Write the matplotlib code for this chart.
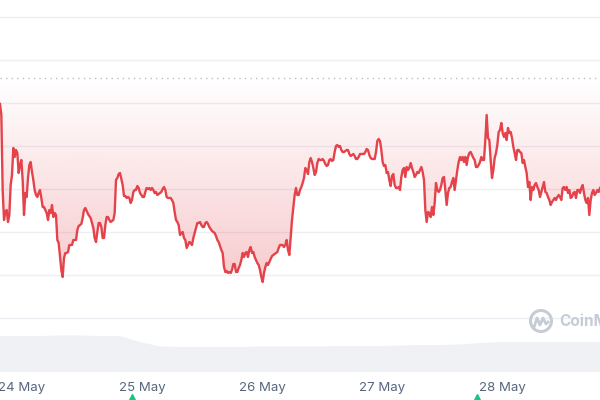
import numpy as np
import pandas as pd
import matplotlib
matplotlib.use("Agg")
import matplotlib.pyplot as plt
import matplotlib.dates as mdates
from matplotlib.colors import LinearSegmentedColormap
from matplotlib.patches import Circle
from matplotlib.transforms import blended_transform_factory

plt.rcParams['font.family'] = ['Inter', 'DejaVu Sans']

# price samples every 16 minutes (arbitrary units, no axis labels on the chart)
price_part1 = [296, 285, 210, 180, 188, 190, 178, 185, 215, 225, 252, 243, 250, 247, 227,
               235, 240, 220, 185, 207, 203, 222, 235, 238, 228, 220, 210, 205, 203, 207,
               210, 202, 193, 193, 190, 187, 180, 190, 187, 195, 183, 187, 185, 160, 157,
               143, 130, 123, 142, 147, 147, 148, 155, 155, 155, 160, 160, 160, 170, 174,
               175, 176, 182, 190, 192, 189, 186, 184, 182, 177, 172, 162, 158, 168, 177]
price_part2 = [177, 173, 162, 162, 175, 183, 183, 180, 178, 179, 180, 187, 220, 222, 226,
               227, 221, 215, 204, 204, 202, 203, 202, 197, 200, 208, 210, 210, 214, 212,
               207, 205, 203, 203, 208, 212, 211, 212, 210, 212, 210, 207, 208, 205, 206,
               207, 208, 211, 213, 210, 203, 202, 202, 202, 200, 197, 188, 180, 178, 175,
               165, 167, 168, 162, 160, 152, 155, 158, 157, 155, 162, 167, 172, 177, 177]
price_part3 = [178, 175, 173, 173, 177, 178, 176, 173, 171, 169, 168, 167, 164, 160, 158,
               154, 150, 147, 133, 128, 129, 127, 128, 127, 130, 136, 136, 128, 128, 132,
               135, 140, 147, 143, 147, 148, 143, 150, 153, 147, 148, 143, 140, 137, 135,
               130, 123, 118, 127, 133, 137, 135, 138, 141, 144, 145, 146, 147, 148, 152,
               155, 155, 155, 153, 155, 160, 150, 145, 162, 180, 192, 205, 212, 205, 205]
price_part4 = [210, 213, 217, 222, 232, 230, 226, 238, 242, 238, 232, 225, 228, 237, 241,
               240, 240, 241, 239, 236, 234, 235, 240, 241, 239, 240, 248, 254, 255, 253,
               254, 250, 248, 248, 249, 250, 250, 246, 244, 245, 246, 244, 241, 241, 243,
               246, 246, 246, 246, 248, 251, 250, 245, 242, 241, 241, 241, 248, 259, 261,
               259, 250, 238, 234, 235, 227, 228, 220, 214, 224, 226, 215, 212, 212, 213]
price_part5 = [210, 223, 230, 232, 223, 233, 230, 232, 237, 232, 228, 223, 225, 228, 227,
               230, 233, 228, 220, 190, 178, 188, 187, 183, 193, 185, 197, 217, 210, 208,
               210, 215, 222, 223, 210, 195, 207, 212, 213, 218, 222, 210, 220, 230, 238,
               243, 240, 243, 238, 243, 235, 243, 247, 248, 245, 242, 240, 233, 233, 235,
               238, 243, 240, 240, 260, 285, 262, 260, 240, 222, 230, 242, 247, 255, 268]
price_part6 = [270, 277, 267, 263, 267, 260, 272, 267, 268, 262, 253, 247, 240, 250, 250,
               248, 247, 237, 240, 233, 227, 213, 218, 200, 213, 210, 215, 217, 213, 210,
               203, 208, 213, 218, 208, 207, 203, 200, 195, 198, 200, 202, 200, 203, 205,
               203, 200, 212, 213, 210, 213, 207, 210, 202, 203, 207, 208, 202, 210, 210,
               207, 212, 215, 207, 200, 197, 202, 185, 200, 207, 210, 205, 207, 210, 208, 212]
price = np.array(price_part1 + price_part2 + price_part3 + price_part4 + price_part5 + price_part6)
times = pd.date_range('2023-05-23 19:36', periods=len(price), freq='16min')

open_price = 322
grid_levels = [383, 340, 297, 254, 211, 168, 125, 82, 39]

# rolling volume (millions), every 4 hours
volume = [36, 36, 36, 36.5, 36.5, 36, 36, 30, 25.5, 25, 25, 25, 25, 25.5, 25.5, 25.5,
          25.5, 26, 26, 26, 26.5, 27, 27, 27.5, 29, 30, 30, 30, 30, 30, 30]
vol_times = pd.date_range('2023-05-23 19:36', periods=len(volume), freq='4h')

tick_dates = pd.to_datetime(['2023-05-24', '2023-05-25', '2023-05-26', '2023-05-27', '2023-05-28'])
tick_labels = ['24 May', '25 May', '26 May', '27 May', '28 May']
event_times = pd.to_datetime(['2023-05-24 22:00', '2023-05-27 19:00'])

RED = '#e5434b'
GREEN = '#16c784'
GREY_TXT = '#58667e'

fig = plt.figure(figsize=(6, 4), dpi=100)
ax = fig.add_axes([0, 28 / 400, 1, 372 / 400])
tnum = mdates.date2num(times)

for g in grid_levels:
    ax.axhline(g, color='#eceff3', lw=1.0, zorder=0)
ax.axhline(open_price, color='#b8bec8', lw=1.0, linestyle=(0, (1, 3)), zorder=1)

# gradient fill between the open price and the line
rgb = matplotlib.colors.to_rgb(RED)
cmap = LinearSegmentedColormap.from_list('fade', [rgb + (0.28,), rgb + (0.0,)])
grad = np.linspace(0, 1, 256).reshape(-1, 1)
im = ax.imshow(grad, extent=[tnum[0], tnum[-1], price.min(), open_price], origin='lower',
               aspect='auto', cmap=cmap, zorder=1, interpolation='bicubic')
fb = ax.fill_between(tnum, price, open_price, facecolor='none', edgecolor='none')
im.set_clip_path(fb.get_paths()[0], transform=ax.transData)

ax.plot(tnum, price, color=RED, lw=1.7, solid_joinstyle='round', zorder=3)

ax.set_xlim(tnum[0], tnum[-1])
ax.set_ylim(28, 400)
for s in ax.spines.values():
    s.set_visible(False)
ax.set_yticks([])
ax.set_xticks(mdates.date2num(tick_dates))
ax.set_xticklabels(tick_labels)
ax.tick_params(axis='x', length=0, pad=7, labelsize=9.5, labelcolor=GREY_TXT)

# event markers below the axis
trans = blended_transform_factory(ax.transData, ax.transAxes)
ax.plot(mdates.date2num(event_times), [-0.077] * len(event_times), linestyle='none',
        marker='^', ms=10, color=GREEN, transform=trans, clip_on=False, zorder=5)

# volume strip
vax = fig.add_axes([0, 28 / 400, 1, 40 / 400], zorder=2)
vax.fill_between(mdates.date2num(vol_times), volume, 0, color='#eff1f5', lw=0)
vax.set_xlim(tnum[0], tnum[-1])
vax.set_ylim(0, 40)
vax.axis('off')
vax.patch.set_alpha(0)

# watermark
wm = '#c6ccd6'
fig.patches.append(Circle((5.41, 0.79), 0.105, transform=fig.dpi_scale_trans,
                          facecolor='none', edgecolor=wm, lw=2.2))
fig.lines.append(matplotlib.lines.Line2D([5.345, 5.37, 5.40, 5.43, 5.46, 5.48],
                                         [0.74, 0.82, 0.75, 0.82, 0.76, 0.78],
                                         transform=fig.dpi_scale_trans, color=wm, lw=2.0))
fig.text(5.59, 0.79, 'CoinMarketCap', transform=fig.dpi_scale_trans, fontsize=11,
         fontweight='bold', color=wm, va='center', ha='left')

fig.savefig('out.png', dpi=100)
